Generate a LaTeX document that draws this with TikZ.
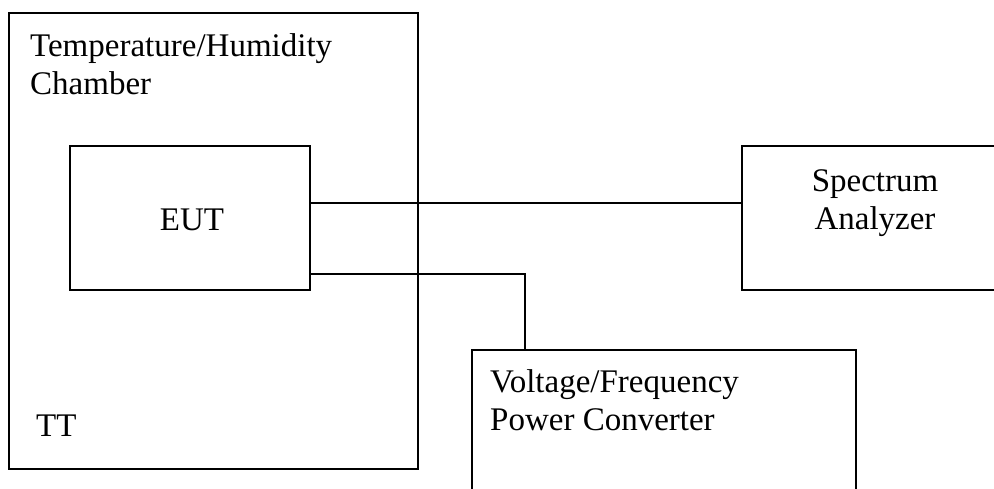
\documentclass[tikz,border=0pt]{standalone}
\usepackage{fontspec}
\setmainfont{Liberation Serif}
\begin{document}
\begin{tikzpicture}[x=1pt,y=-1pt,
  box/.style={draw,line width=1.6pt,rectangle,inner sep=0pt,anchor=north west},
  lbl/.style={inner sep=0pt,font=\fontsize{33}{38}\selectfont,align=left},
  wire/.style={line width=1.6pt}]
\useasboundingbox (0,0) rectangle (994,488);
\clip (0,0) rectangle (994,488);
\fill[white] (0,0) rectangle (994,488);
% boxes
\node[box,minimum width=409pt,minimum height=456pt] (chamber) at (8,12) {};
\node[box,minimum width=240pt,minimum height=144pt] (eut) at (69,145) {};
\node[box,minimum width=270pt,minimum height=144pt] (sa) at (741,145) {};
\node[box,minimum width=384pt,minimum height=160pt] (vf) at (471,349) {};
% labels (base anchor = last line's baseline)
\node[lbl,anchor=base west] (chtext) at (30,94) {Temperature/Humidity\\Chamber};
\node[lbl,anchor=base] (euttext) at (192,230) {EUT};
\node[lbl,anchor=base west] (tt) at (36,436) {TT};
\node[lbl,anchor=base,align=center] (satext) at (875,229) {Spectrum\\Analyzer};
\node[lbl,anchor=base west] (vftext) at (490,430) {Voltage/Frequency\\Power Converter};
% connectors
\coordinate (p1) at (eut.east |- 0,203);
\coordinate (p2) at (eut.east |- 0,274);
\coordinate (c2) at (525,274);
\draw[wire] (p1) -- (sa.west |- p1);
\draw[wire] (p2) -- (c2) -- (c2 |- vf.north);
\end{tikzpicture}
\end{document}
